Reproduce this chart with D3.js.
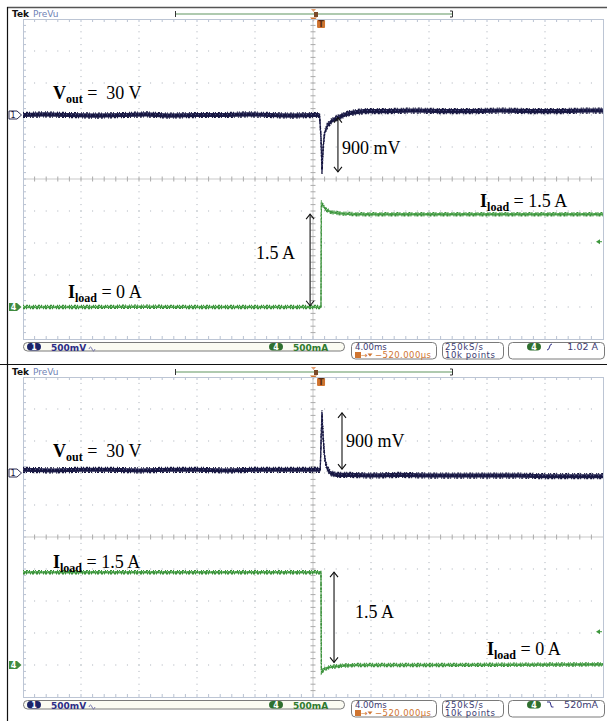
<!DOCTYPE html>
<html>
<head>
<meta charset="utf-8">
<script src="https://cdn.jsdelivr.net/npm/d3@7"></script>
<style>
  body { margin: 0; background: #fff; }
  text { white-space: pre; }
</style>
</head>
<body>
<script>
// ---- data (time in ms, Vout as deviation from 30 V, Iload in A)
var ch1Scale = 0.5;            // V/div
var ch4Scale = 0.5;            // A/div
var ch1Pos = 2;                // divisions
var ch4Pos = -4;
var trigTime = 0.52;           // ms, from the -520.000us delay
var trigLevels = [1.02, 0.52];
var trigLabels = ['1.02 A', '520mA'];
var trigSlopes = ['rise', 'fall'];
var statusLabels = ['500mV', '500mA', '4.00ms', '\u2212520.000\u00b5s', '250kS/s', '10k points'];

var vout1 = [[-20,0.0],[-18.5,0.01],[-17,0.0],[-15,-0.01],[-13,0.0],[-11.5,0.01],[-10,-0.01],[-8,0.0],
  [-6,0.0],[-4.5,0.01],[-3,0.0],[-1.5,-0.01],[0,0.0],[0.45,0.0],[0.55,-0.35],[0.62,-0.89],[0.7,-0.5],
  [0.8,-0.28],[1.0,-0.16],[1.3,-0.09],[1.8,-0.03],[2.5,0.03],[3.5,0.06],[5,0.06],[7,0.07],[9,0.06],
  [11,0.06],[13,0.07],[15,0.06],[17,0.06],[19,0.07],[20,0.07]];
var iload1 = [[-20,0.0],[-16,0.0],[-12,0.005],[-8,0.0],[-4,0.0],[0,0.0],[0.55,0.0],[0.58,1.64],
  [0.7,1.58],[0.9,1.52],[1.3,1.48],[2,1.46],[3,1.45],[7,1.45],[11,1.45],[15,1.45],[20,1.45]];
var vout2 = [[-20,0.05],[-18,0.04],[-16,0.05],[-14,0.05],[-12,0.04],[-10,0.05],[-8,0.05],[-6,0.04],
  [-4,0.05],[-2,0.05],[0,0.05],[0.5,0.05],[0.57,0.6],[0.62,0.94],[0.7,0.55],[0.8,0.25],
  [0.95,0.08],[1.2,0.0],[1.6,-0.03],[2.5,-0.03],[4,-0.04],[6,-0.03],[8,-0.04],[10,-0.04],
  [12,-0.04],[14,-0.04],[16,-0.05],[18,-0.05],[20,-0.05]];
var iload2 = [[-20,1.45],[-15,1.45],[-10,1.45],[-5,1.45],[0,1.45],[0.55,1.45],[0.58,-0.11],[0.8,-0.06],
  [1.2,-0.03],[2,-0.01],[3,0.0],[8,0.0],[14,0.005],[20,0.01]];

var traces = [[vout1, iload1], [vout2, iload2]];

// annotations: [t ms, grid division] for text, arrows in channel units
var notes = [
  [{sym: 'V', sub: 'out', rest: ' =  30 V', t: -17.93, d: 2.5},
   {text: '900 mV', t: 2.0, d: 0.78},
   {text: '1.5 A', t: -3.93, d: -2.5},
   {sym: 'I', sub: 'load', rest: ' = 1.5 A', t: 11.52, d: -0.875},
   {sym: 'I', sub: 'load', rest: ' = 0 A', t: -16.9, d: -3.72}],
  [{sym: 'V', sub: 'out', rest: ' =  30 V', t: -17.93, d: 2.5},
   {text: '900 mV', t: 2.28, d: 2.81},
   {sym: 'I', sub: 'load', rest: ' = 1.5 A', t: -17.93, d: -0.97},
   {text: '1.5 A', t: 2.9, d: -2.53},
   {sym: 'I', sub: 'load', rest: ' = 0 A', t: 12.0, d: -3.69}]
];
var arrows = [
  [{ch: 1, t: 1.72, from: -0.04, to: -0.89}, {ch: 4, t: -0.2, from: 1.45, to: 0.02}],
  [{ch: 1, t: 2.0, from: 0.94, to: 0.06}, {ch: 4, t: 1.45, from: 1.45, to: 0.04}]
];

// ---- layout
var W = 607, H = 721;
var gx0 = 23, gx1 = 603, gy0 = 19, gy1 = 339, panelStep = 358;
var navy = '#15153d', green = '#3c963c', orange = '#cf7430';

var svg = d3.select('body').append('svg')
  .attr('width', W).attr('height', H)
  .style('font-family', 'DejaVu Sans');

var x = d3.scaleLinear().domain([-20, 20]).range([gx0, gx1]);
var yDiv = d3.scaleLinear().domain([-5, 5]).range([gy1, gy0]);
var yCh1 = function(v) { return yDiv(ch1Pos + v / ch1Scale); };
var yCh4 = function(a) { return yDiv(ch4Pos + a / ch4Scale); };

// frame
svg.append('line').attr('x1', 7).attr('x2', W).attr('y1', 7.5).attr('y2', 7.5)
  .attr('stroke', '#555').attr('stroke-width', 1.5);
svg.append('line').attr('x1', 0).attr('x2', W).attr('y1', 364.5).attr('y2', 364.5)
  .attr('stroke', '#111').attr('stroke-width', 1.2);
svg.append('line').attr('x1', 7.5).attr('x2', 7.5).attr('y1', 7).attr('y2', H)
  .attr('stroke', '#111').attr('stroke-width', 1.2);

function drawGrid(g) {
  var dx = (gx1 - gx0) / 10, dy = (gy1 - gy0) / 10;
  var grid = g.append('g');
  // dotted division lines
  d3.range(1, 10).forEach(function(i) {
    if (i === 5) return;
    d3.range(1, 50).forEach(function(k) {
      grid.append('rect').attr('x', gx0 + i * dx - 0.5).attr('y', gy0 + k * dy / 5 - 0.5)
        .attr('width', 1).attr('height', 1).attr('fill', '#a9afb8');
      grid.append('rect').attr('x', gx0 + k * dx / 5 - 0.5).attr('y', gy0 + i * dy - 0.5)
        .attr('width', 1).attr('height', 1).attr('fill', '#a9afb8');
    });
  });
  var cx = gx0 + 5 * dx, cy = gy0 + 5 * dy;
  grid.append('line').attr('x1', cx).attr('x2', cx).attr('y1', gy0).attr('y2', gy1)
    .attr('stroke', '#c9c9c9');
  grid.append('line').attr('x1', gx0).attr('x2', gx1).attr('y1', cy).attr('y2', cy)
    .attr('stroke', '#c9c9c9');
  d3.range(1, 50).forEach(function(k) {
    var yy = gy0 + k * dy / 5, xx = gx0 + k * dx / 5;
    grid.append('line').attr('x1', cx - 2.5).attr('x2', cx + 2.5).attr('y1', yy).attr('y2', yy)
      .attr('stroke', '#aaa');
    grid.append('line').attr('x1', xx).attr('x2', xx).attr('y1', cy - 2.5).attr('y2', cy + 2.5)
      .attr('stroke', '#aaa');
    grid.append('line').attr('x1', gx0).attr('x2', gx0 + 3).attr('y1', yy).attr('y2', yy)
      .attr('stroke', '#b9c2d2');
    grid.append('line').attr('x1', xx).attr('x2', xx).attr('y1', gy0).attr('y2', gy0 + 3)
      .attr('stroke', '#b9c2d2');
    grid.append('line').attr('x1', xx).attr('x2', xx).attr('y1', gy1 - 3).attr('y2', gy1)
      .attr('stroke', '#b9c2d2');
  });
  grid.append('rect').attr('x', gx0 + 0.5).attr('y', gy0 + 0.5)
    .attr('width', gx1 - gx0).attr('height', gy1 - gy0)
    .attr('fill', 'none').attr('stroke', '#bcc5d4');
}

// noisy trace: envelope band, solid core and speckled edges
function drawTrace(g, pts, yf, band, fillCol, lineCol, speck) {
  var area = d3.area().x(function(d) { return x(d[0]); })
    .y0(function(d) { return yf(d[1] - band); })
    .y1(function(d) { return yf(d[1] + band); });
  g.append('path').datum(pts).attr('d', area).attr('fill', fillCol);
  var edge = function(k) {
    return d3.line().x(function(d) { return x(d[0]); })
      .y(function(d) { return yf(d[1] + k * band); });
  };
  g.append('path').datum(pts).attr('d', edge(0)).attr('fill', 'none')
    .attr('stroke', lineCol).attr('stroke-width', 1.1);
  g.append('path').datum(pts).attr('d', edge(1.2)).attr('fill', 'none')
    .attr('stroke', lineCol).attr('stroke-width', 1.3).attr('stroke-dasharray', '1 2 2 1 1 3 1 1');
  g.append('path').datum(pts).attr('d', edge(-1.2)).attr('fill', 'none')
    .attr('stroke', lineCol).attr('stroke-width', 1.3).attr('stroke-dasharray', '2 1 1 3 1 1 2 2');
  g.append('path').datum(pts).attr('d', edge(0.3)).attr('fill', 'none')
    .attr('stroke', speck).attr('stroke-width', 0.9).attr('stroke-dasharray', '1 3 1 2 1 4');
}

function pill(g, cx, cy, label, fill) {
  g.append('rect').attr('x', cx - 7).attr('y', cy - 3.8).attr('width', 14).attr('height', 7.6)
    .attr('rx', 3.8).attr('fill', fill);
  g.append('text').attr('x', cx).attr('y', cy + 3).attr('text-anchor', 'middle')
    .attr('font-size', 8).attr('font-weight', 'bold').attr('fill', '#fff').text(label);
}

function drawPanel(p) {
  var g = svg.append('g').attr('transform', 'translate(0,' + p * panelStep + ')');

  // header
  g.append('text').attr('x', 12).attr('y', 17).attr('font-size', 9).attr('font-weight', 'bold')
    .attr('fill', '#111').text('Tek');
  g.append('text').attr('x', 33).attr('y', 17).attr('font-size', 9).attr('fill', '#6f82b5')
    .text('PreVu');
  g.append('line').attr('x1', 175).attr('x2', 452).attr('y1', 14).attr('y2', 14)
    .attr('stroke', '#94b894').attr('stroke-width', 1.3);
  g.append('line').attr('x1', 175.5).attr('x2', 175.5).attr('y1', 11).attr('y2', 17)
    .attr('stroke', '#333');
  g.append('path').attr('d', 'M450,11 H452.5 V17 H450').attr('fill', 'none').attr('stroke', '#333');
  var cx = x(0);
  g.append('path').attr('d', 'M' + (cx - 2) + ',9 h5 l-2.5,3 z').attr('fill', '#e6a070');
  g.append('rect').attr('x', cx + 1).attr('y', 12).attr('width', 4).attr('height', 5).attr('fill', '#7a4a2a');
  g.append('path').attr('d', 'M' + (cx - 3) + ',17.5 h7 l-3.5,3.5 z').attr('fill', orange);

  drawGrid(g);

  // trigger point marker
  var tx = x(trigTime);
  g.append('rect').attr('x', tx - 3.5).attr('y', 20).attr('width', 8).attr('height', 8)
    .attr('rx', 1).attr('fill', orange);
  g.append('text').attr('x', tx + 0.5).attr('y', 27).attr('text-anchor', 'middle')
    .attr('font-size', 8).attr('font-weight', 'bold').attr('fill', '#5a2a10').text('T');

  // traces
  drawTrace(g, traces[p][1], yCh4, 0.02, '#55ad55', '#3a8f3a', '#a6d8a6');
  drawTrace(g, traces[p][0], yCh1, 0.032, '#1b1b48', navy, '#5a5a8c');

  // channel markers
  var y1 = yCh1(0), y4 = yCh4(0);
  g.append('path').attr('d', 'M9,' + (y1 - 4) + ' h8 l4.5,4 l-4.5,4 h-8 z')
    .attr('fill', '#fff').attr('stroke', navy).attr('stroke-width', 0.9);
  g.append('text').attr('x', 13).attr('y', y1 + 3.2).attr('text-anchor', 'middle')
    .attr('font-size', 8).attr('fill', navy).text('1');
  g.append('path').attr('d', 'M9,' + (y4 - 4) + ' h8 l4.5,4 l-4.5,4 h-8 z').attr('fill', '#3f8a3f');
  g.append('text').attr('x', 13.5).attr('y', y4 + 3.2).attr('text-anchor', 'middle')
    .attr('font-size', 8).attr('font-weight', 'bold').attr('fill', '#fff').text('4');

  // trigger level indicator
  var ty = yCh4(trigLevels[p]);
  g.append('path').attr('d', 'M596,' + ty + ' l4,-2.5 v5 z').attr('fill', green);
  g.append('line').attr('x1', 599).attr('x2', 602).attr('y1', ty).attr('y2', ty).attr('stroke', green);

  // annotations
  var serif = 'Liberation Serif';
  notes[p].forEach(function(n) {
    var t = g.append('text').attr('x', x(n.t)).attr('y', yDiv(n.d))
      .attr('font-family', serif).attr('font-size', 18).attr('fill', '#000');
    if (n.text) { t.text(n.text); return; }
    t.append('tspan').attr('font-weight', 'bold').text(n.sym);
    t.append('tspan').attr('font-weight', 'bold').attr('font-size', 12).attr('dy', 4).text(n.sub);
    t.append('tspan').attr('dy', -4).text(n.rest);
  });
  arrows[p].forEach(function(a) {
    var yf = a.ch === 1 ? yCh1 : yCh4;
    var ax = x(a.t), ya = yf(a.from), yb = yf(a.to);
    var top = Math.min(ya, yb), bot = Math.max(ya, yb);
    g.append('line').attr('x1', ax).attr('x2', ax).attr('y1', top).attr('y2', bot)
      .attr('stroke', '#111').attr('stroke-width', 1.1);
    g.append('path').attr('d', 'M' + (ax - 4) + ',' + (top + 5) + ' L' + ax + ',' + top + ' L' + (ax + 4) + ',' + (top + 5)
      + ' M' + (ax - 4) + ',' + (bot - 5) + ' L' + ax + ',' + bot + ' L' + (ax + 4) + ',' + (bot - 5))
      .attr('fill', 'none').attr('stroke', '#111').attr('stroke-width', 1.1);
  });

  // status bar
  var sb = g.append('g');
  sb.append('rect').attr('x', 23.5).attr('y', 342.5).attr('width', 321).attr('height', 8.5)
    .attr('rx', 4).attr('fill', '#fbfbf2').attr('stroke', '#7a7a7a');
  pill(sb, 34, 346.7, '1', '#1c2468');
  sb.append('text').attr('x', 51).attr('y', 350.5).attr('font-size', 9).attr('font-weight', 'bold')
    .attr('fill', '#2c2c86').text(statusLabels[0]);
  sb.append('path').attr('d', 'M89,349 q1.5,-4 3,0 t3,0').attr('fill', 'none')
    .attr('stroke', '#6a6aa8').attr('stroke-width', 0.9);
  pill(sb, 276, 346.7, '4', '#2f6f2f');
  sb.append('text').attr('x', 293).attr('y', 350.5).attr('font-size', 9).attr('font-weight', 'bold')
    .attr('fill', '#2f7a2f').text(statusLabels[1]);

  [[351, 85], [442, 61], [508, 96]].forEach(function(b) {
    sb.append('rect').attr('x', b[0] + 0.5).attr('y', 342.5).attr('width', b[1]).attr('height', 16.5)
      .attr('rx', 4).attr('fill', '#fff').attr('stroke', '#7a7a7a');
  });
  sb.append('text').attr('x', 355).attr('y', 349.5).attr('font-size', 8.5).attr('fill', '#3b3b72')
    .text(statusLabels[2]);
  sb.append('rect').attr('x', 355).attr('y', 352).attr('width', 6).attr('height', 6).attr('fill', orange);
  sb.append('text').attr('x', 361).attr('y', 358).attr('font-size', 8).attr('fill', orange).text('\u2192');
  sb.append('path').attr('d', 'M367.5,353.5 h5 l-2.5,3 z').attr('fill', orange);
  sb.append('text').attr('x', 375).attr('y', 358.3).attr('font-size', 8.5).attr('fill', orange)
    .attr('textLength', 56).text(statusLabels[3]);
  sb.append('text').attr('x', 445).attr('y', 349.5).attr('font-size', 8.5).attr('fill', '#3b3b72')
    .attr('textLength', 38).text(statusLabels[4]);
  sb.append('text').attr('x', 445).attr('y', 358.3).attr('font-size', 8.5).attr('fill', '#3b3b72')
    .attr('textLength', 50).text(statusLabels[5]);
  pill(sb, 534, 346.7, '4', '#2f6f2f');
  var slope = trigSlopes[p] === 'rise'
    ? 'M547,350 q2,0 2.5,-3 t2.5,-3' : 'M547,344 h3 l1.5,5 h2';
  sb.append('path').attr('d', slope).attr('fill', 'none').attr('stroke', '#2c2c86').attr('stroke-width', 1);
  sb.append('text').attr('x', 598).attr('y', 350).attr('text-anchor', 'end').attr('font-size', 9.5)
    .attr('fill', '#3b3b72').text(trigLabels[p]);
}

drawPanel(0);
drawPanel(1);
</script>
</body>
</html>
